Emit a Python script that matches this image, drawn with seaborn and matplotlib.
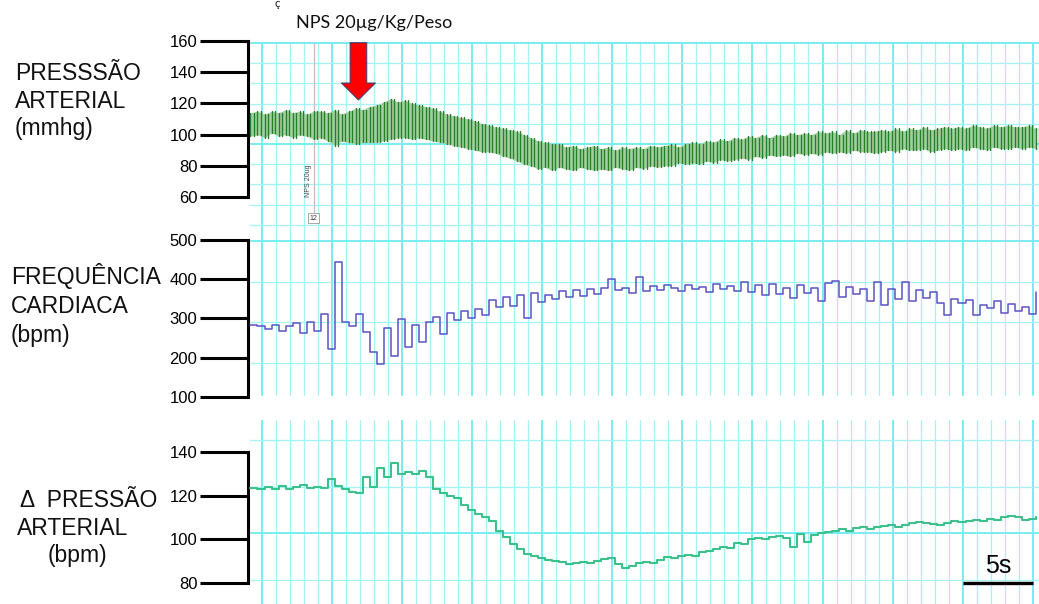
import numpy as np
import pandas as pd
import matplotlib
matplotlib.use("Agg")
import matplotlib.pyplot as plt
import seaborn as sns

# ---------------- data ----------------
t_start = -0.8          # s, first sample
t_step = 0.5            # s, sample interval

pa_sys = [114, 115, 113, 115, 114, 116, 114, 115, 113, 115,
          115, 114, 116, 113, 115, 117, 116, 118, 119, 121,
          123, 121, 122, 120, 119, 118, 117, 115, 113, 112,
          111, 110, 109, 107, 106, 105, 104, 103, 102, 100,
          98, 96, 95, 94, 94, 92, 93, 91, 92, 93,
          91, 92, 90, 92, 91, 92, 91, 93, 92, 93,
          94, 92, 94, 95, 94, 96, 95, 97, 96, 98,
          97, 99, 98, 100, 98, 100, 99, 101, 100, 101,
          100, 102, 101, 102, 100, 103, 101, 103, 102, 102,
          103, 102, 104, 102, 104, 103, 105, 103, 104, 105,
          104, 105, 104, 106, 105, 104, 106, 105, 106, 105,
          105, 106, 104]

pa_dia = [99, 100, 98, 101, 99, 100, 98, 100, 99, 97,
          98, 96, 93, 96, 95, 94, 95, 95, 95, 96,
          97, 98, 98, 97, 98, 97, 96, 95, 94, 93,
          92, 91, 90, 89, 89, 88, 86, 85, 83, 81,
          80, 78, 79, 77, 79, 78, 77, 79, 78, 77,
          78, 77, 79, 78, 77, 79, 78, 80, 79, 80,
          80, 82, 81, 82, 81, 83, 82, 84, 83, 84,
          85, 84, 86, 85, 87, 86, 87, 86, 88, 87,
          88, 87, 89, 88, 89, 88, 90, 89, 89, 88,
          89, 90, 89, 91, 90, 90, 91, 89, 90, 91,
          90, 91, 90, 92, 91, 90, 92, 91, 91, 92,
          91, 92, 91]

hr_bpm = [283, 280, 272, 283, 268, 280, 288, 262, 290, 268,
          312, 222, 445, 290, 280, 312, 265, 215, 185, 275,
          205, 298, 228, 283, 240, 292, 305, 260, 315, 295,
          320, 300, 325, 310, 347, 330, 355, 332, 360, 300,
          365, 342, 360, 350, 370, 355, 372, 358, 375, 362,
          378, 400, 372, 378, 365, 405, 370, 383, 372, 385,
          378, 370, 385, 375, 380, 368, 388, 375, 382, 370,
          392, 368, 385, 360, 388, 362, 378, 352, 385, 365,
          378, 345, 390, 395, 355, 380, 362, 375, 345, 394,
          335, 375, 350, 394, 345, 372, 352, 368, 340, 310,
          350, 340, 348, 308, 335, 326, 345, 315, 338, 320,
          330, 312, 368]

dpa = [123.4, 123.0, 124.0, 123.0, 124.5, 123.0, 124.0, 125.0, 123.5, 124.0,
       123.5, 127.5, 124.5, 123.0, 121.5, 121.0, 128.5, 124.0, 132.5, 128.5,
       135.0, 130.0, 131.0, 130.0, 131.5, 128.5, 123.0, 121.0, 120.0, 119.0,
       115.5, 113.5, 111.5, 110.0, 108.5, 104.0, 101.0, 98.0, 95.5, 93.5,
       92.5, 91.5, 90.5, 90.0, 89.5, 88.5, 89.0, 89.5, 89.0, 90.0,
       91.0, 91.5, 88.5, 87.0, 88.0, 89.0, 89.5, 89.0, 90.5, 92.0,
       91.5, 92.5, 93.0, 92.5, 94.0, 94.5, 95.5, 96.5, 96.0, 98.5,
       98.0, 100.0, 100.5, 100.0, 101.0, 101.5, 100.5, 96.5, 102.5, 99.0,
       102.0, 103.0, 103.5, 104.0, 104.5, 104.0, 105.0, 105.5, 104.5, 105.5,
       106.0, 106.5, 105.5, 106.5, 107.5, 108.0, 107.5, 107.0, 106.5, 107.5,
       108.5, 108.0, 108.5, 109.0, 108.5, 109.5, 109.0, 110.0, 110.5, 110.0,
       109.0, 109.5, 110.0]

pa_ticks = [60, 80, 100, 120, 140, 160]
hr_ticks = [100, 200, 300, 400, 500]
dpa_ticks = [80, 100, 120, 140]

pa_label = ["PRESSSÃO", "ARTERIAL", "(mmhg)"]
hr_label = ["FREQUÊNCIA", "CARDIACA", "(bpm)"]
dpa_label = ["Δ  PRESSÃO", "ARTERIAL", "(bpm)"]

event_text = "NPS 20µg/Kg/Peso"
event_time = 6.9          # s, red arrow
marker_time = 3.7         # s, recorder comment marker
marker_text = "NPS 20ug"
marker_box = "12"
scale_start = 50          # s
scale_len = 5             # s
scale_text = "5s"

# ---------------- style ----------------
sns.set_theme(style="white")
plt.rcParams['font.family'] = ['Liberation Sans', 'DejaVu Sans']

W, H = 1039, 604
fig = plt.figure(figsize=(W / 100, H / 100), dpi=100)
fig.patch.set_facecolor("white")


def px_axes(left, top, right, bottom):
    return fig.add_axes([left / W, 1 - bottom / H, (right - left) / W, (bottom - top) / H])


t = t_start + t_step * np.arange(len(pa_sys))
XL = (-0.977, 55.442)

GMIN = "#a6f3f6"
GMAJ = "#79ecf1"


def vgrid(ax, ymin, ymax):
    for s in range(0, 56):
        major = (s % 5 == 0)
        ax.axvline(s, ymin=ymin, ymax=ymax, color=GMAJ if major else GMIN,
                   lw=1.4 if major else 0.9, zorder=0)


def hgrid(ax, ys_px, top_px, bottom_px, majors=()):
    for i, y in enumerate(ys_px):
        f = (bottom_px - y) / (bottom_px - top_px)
        major = i in majors
        ax.plot([0.003, 1], [f, f], transform=ax.transAxes,
                color=GMAJ if major else GMIN, lw=1.4 if major else 0.9, zorder=0)


def bracket(ax, ticks):
    for s in ["top", "right", "bottom"]:
        ax.spines[s].set_visible(False)
    sp = ax.spines["left"]
    sp.set_bounds(min(ticks), max(ticks))
    sp.set_linewidth(2.2)
    sp.set_color("black")
    sp.set_capstyle("projecting")
    ax.set_yticks(ticks)
    ax.set_yticklabels([str(v) for v in ticks])
    ax.tick_params(axis="y", direction="out", length=34.5, width=2.2, pad=2,
                   labelsize=12, colors="black", left=True)
    ax.set_xticks([])
    ax.set_xlabel("")
    ax.set_ylabel("")
    ax.patch.set_alpha(0)
    ax.grid(False)


# ---------- top panel: arterial pressure ----------
ax1 = px_axes(248, 40, W, 228)
ax1.set_xlim(*XL)
ax1.set_ylim(40.13, 160.64)
vgrid(ax1, 0, (228 - 43) / 188)
hgrid(ax1, [43 + 20.2 * i for i in range(10)], 40, 228, majors=(0, 5))

ax1.fill_between(t, pa_dia, pa_sys, color="#9fd09f", lw=0, zorder=2)
# each beat drawn as a vertical stroke from diastolic to systolic pressure
n = len(t)
beats = pd.DataFrame({
    "time": np.concatenate([t, t, t + t_step / 2, t + t_step / 2]),
    "pressure": np.concatenate([pa_dia, pa_sys, pa_dia, pa_sys]),
    "beat": np.concatenate([np.arange(n), np.arange(n), np.arange(n) + n, np.arange(n) + n]),
})
sns.lineplot(data=beats, x="time", y="pressure", units="beat", estimator=None,
             ax=ax1, color="#2a7f2c", lw=1.0, zorder=3)

# recorder marker
ax1.axvline(marker_time, ymin=(228 - 212) / 188, ymax=(228 - 43) / 188,
            color="#c4c4c4", lw=1.0, zorder=1)
ax1.annotate(marker_text, xy=(marker_time, 60), xytext=(-3.5, 0),
             textcoords="offset points", rotation=90, fontsize=5,
             ha="center", va="bottom", color="#444444")
ax1.annotate(marker_box, xy=(marker_time, 46.5), xytext=(0, 0),
             textcoords="offset points", fontsize=5, ha="center", va="center",
             color="#333333",
             bbox=dict(boxstyle="square,pad=0.25", fc="white", ec="#999999", lw=0.6))

# red arrow
ax1.annotate("", xy=(event_time, 122.2), xytext=(event_time, 158.9),
             arrowprops=dict(arrowstyle="simple,head_length=1.22,head_width=2.45,tail_width=1.2",
                             fc="#ff0000", ec="#33407a", lw=0.7, mutation_scale=10,
                             shrinkA=0, shrinkB=0),
             annotation_clip=False, zorder=6)
bracket(ax1, pa_ticks)

# ---------- middle panel: heart rate ----------
ax2 = px_axes(248, 228, W, 398)
ax2.set_xlim(*XL)
ax2.set_ylim(97.45, 530.57)
vgrid(ax2, (398 - 395) / 170, 1)
hgrid(ax2, [241, 281.5, 322, 362.5], 228, 398, majors=(0,))
sns.lineplot(x=t, y=hr_bpm, ax=ax2, color="#5a54c4", lw=1.1, estimator=None,
             drawstyle="steps-post", zorder=3)
bracket(ax2, hr_ticks)

# ---------- bottom panel: delta pressure ----------
ax3 = px_axes(248, 420, W, 604)
ax3.set_xlim(*XL)
ax3.set_ylim(70.37, 154.66)
vgrid(ax3, 0, 1)
hgrid(ax3, [440, 486.7, 532.7, 580], 420, 604, majors=(2,))
sns.lineplot(x=t, y=dpa, ax=ax3, color="#3cc08c", lw=1.5, estimator=None,
             drawstyle="steps-post", zorder=3)
bracket(ax3, dpa_ticks)

# scale bar
ax3.plot([scale_start, scale_start + scale_len], [80, 80], color="black",
         lw=2.4, solid_capstyle="butt", zorder=5)
ax3.annotate(scale_text, xy=(scale_start + scale_len / 2, 80), xytext=(0, 7.5),
             textcoords="offset points", ha="center", va="baseline",
             fontsize=18, color="black")

# ---------- texts ----------
def ftext(x, y, s, **kw):
    fig.text(x / W, 1 - y / H, s, **kw)


lab_kw = dict(fontsize=16.5, color="#111111", ha="left", va="baseline")
for s, y in zip(pa_label, [80, 108, 135]):
    ftext(15, y, s, **lab_kw)
for s, y in zip(hr_label, [284, 313, 342]):
    ftext(11, y, s, **lab_kw)
for s, (x, y) in zip(dpa_label, [(20, 507), (17, 535), (48, 562)]):
    ftext(x, y, s, **lab_kw)

ftext(374, 28, event_text, fontsize=13, ha="center", va="baseline",
      family=["Lato", "DejaVu Sans"], color="#111111")
ftext(277, 7, "ç", fontsize=8, ha="center", va="baseline",
      family=["Lato", "DejaVu Sans"], color="#111111")

fig.savefig("out.png", dpi=100, facecolor="white")
